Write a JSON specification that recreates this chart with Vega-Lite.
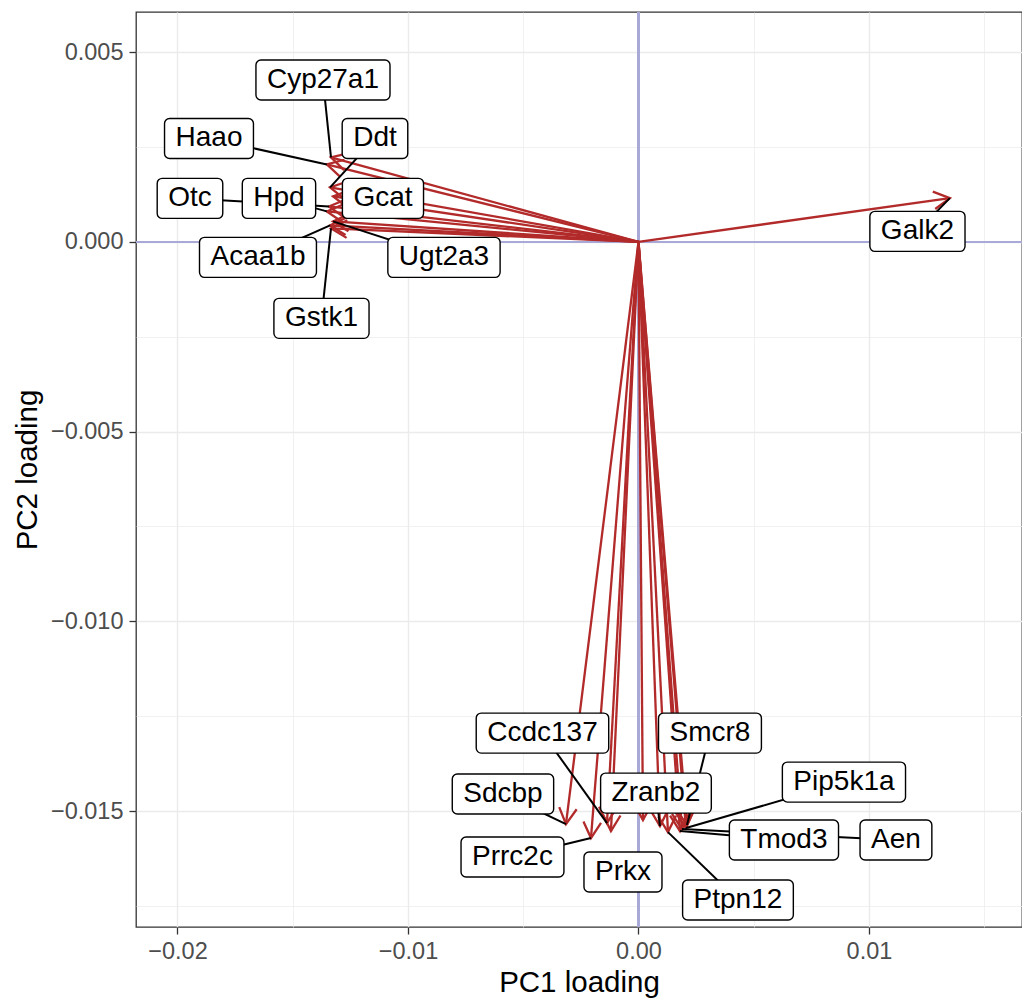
{
  "$schema": "https://vega.github.io/schema/vega-lite/v6.json",
  "width": 886,
  "height": 915,
  "autosize": {"type": "none"},
  "padding": {"left": 136, "top": 12, "right": 0, "bottom": 75},
  "background": "white",
  "config": {
    "font": "Liberation Sans",
    "view": {"stroke": "#333333", "strokeWidth": 1.3},
    "axis": {
      "domain": false,
      "grid": true,
      "gridColor": "#ebebeb",
      "labelFont": "Liberation Sans",
      "labelFontSize": 23.5,
      "labelColor": "#4d4d4d",
      "titleFont": "Liberation Sans",
      "titleFontSize": 29.5,
      "titleFontWeight": "normal",
      "titleColor": "#000000",
      "tickColor": "#333333",
      "tickWidth": 1.3,
      "tickSize": 7
    }
  },
  "datasets": {
    "loadings": [
      {"gene": "Cyp27a1", "pc1": -0.01334, "pc2": 0.002226, "lx": -0.013688, "ly": 0.004267},
      {"gene": "Haao", "pc1": -0.01352, "pc2": 0.002041, "lx": -0.018633, "ly": 0.002726},
      {"gene": "Ddt", "pc1": -0.01338, "pc2": 0.001436, "lx": -0.011432, "ly": 0.002726},
      {"gene": "Gcat", "pc1": -0.01325, "pc2": 0.001198, "lx": -0.011085, "ly": 0.001146},
      {"gene": "Otc", "pc1": -0.01343, "pc2": 0.000935, "lx": -0.019458, "ly": 0.001146},
      {"gene": "Hpd", "pc1": -0.01352, "pc2": 0.000803, "lx": -0.015597, "ly": 0.001146},
      {"gene": "Ugt2a3", "pc1": -0.01325, "pc2": 0.00054, "lx": -0.008438, "ly": -0.000408},
      {"gene": "Acaa1b", "pc1": -0.01338, "pc2": 0.000435, "lx": -0.016508, "ly": -0.000408},
      {"gene": "Gstk1", "pc1": -0.01334, "pc2": 0.000356, "lx": -0.013753, "ly": -0.002015},
      {"gene": "Galk2", "pc1": 0.01351, "pc2": 0.001154, "lx": 0.012104, "ly": 0.000277},
      {"gene": "Sdcbp", "pc1": -0.003145, "pc2": -0.015343, "lx": -0.005879, "ly": -0.014552},
      {"gene": "Prrc2c", "pc1": -0.002061, "pc2": -0.015712, "lx": -0.005466, "ly": -0.016211},
      {"gene": "Ccdc137", "pc1": -0.001366, "pc2": -0.015317, "lx": -0.004165, "ly": -0.012945},
      {"gene": "Prkx", "pc1": -0.001193, "pc2": -0.015527, "lx": -0.000672, "ly": -0.016606},
      {"gene": null, "pc1": 0.000195, "pc2": -0.015238, "lx": null, "ly": null},
      {"gene": "Zranb2", "pc1": 0.000933, "pc2": -0.015396, "lx": 0.000759, "ly": -0.014526},
      {"gene": "Ptpn12", "pc1": 0.00128, "pc2": -0.015554, "lx": 0.004317, "ly": -0.017344},
      {"gene": "Tmod3", "pc1": 0.0018, "pc2": -0.015527, "lx": 0.006312, "ly": -0.015764},
      {"gene": "Aen", "pc1": 0.001887, "pc2": -0.015475, "lx": 0.011171, "ly": -0.015764},
      {"gene": "Pip5k1a", "pc1": 0.002061, "pc2": -0.015448, "lx": 0.008915, "ly": -0.014236},
      {"gene": "Smcr8", "pc1": 0.002104, "pc2": -0.015369, "lx": 0.003102, "ly": -0.012945}
    ]
  },
  "data": {"name": "loadings"},
  "layer": [
    {
      "mark": {"type": "rule", "color": "#a9a9d8", "strokeWidth": 2},
      "encoding": {
        "y": {"datum": 0, "type": "quantitative", "scale": {"domain": [-0.018055, 0.006058], "nice": false, "zero": false},
          "axis": {
            "title": "PC2 loading",
            "grid": true,
            "values": [0.005, 0.0025, 0, -0.0025, -0.005, -0.0075, -0.01, -0.0125, -0.015, -0.0175],
            "format": ".3f",
            "labelExpr": "abs(round(datum.value * 400)) % 2 == 0 ? datum.label : ''",
            "tickOpacity": {"condition": {"test": "abs(round(datum.value * 400)) % 2 == 1", "value": 0}, "value": 1},
            "gridWidth": {"condition": {"test": "abs(round(datum.value * 400)) % 2 == 1", "value": 0.7}, "value": 1.4},
            "labelPadding": 6,
            "titlePadding": 8
          }
        }
      }
    },
    {
      "mark": {"type": "rule", "color": "#a9a9d8", "strokeWidth": 2},
      "encoding": {
        "x": {"datum": 0, "type": "quantitative", "scale": {"domain": [-0.0218, 0.01664], "nice": false, "zero": false},
          "axis": {
            "title": "PC1 loading",
            "grid": true,
            "values": [-0.02, -0.015, -0.01, -0.005, 0, 0.005, 0.01, 0.015],
            "format": ".2f",
            "labelExpr": "abs(round(datum.value * 200)) % 2 == 0 ? datum.label : ''",
            "tickOpacity": {"condition": {"test": "abs(round(datum.value * 200)) % 2 == 1", "value": 0}, "value": 1},
            "gridWidth": {"condition": {"test": "abs(round(datum.value * 200)) % 2 == 1", "value": 0.7}, "value": 1.4},
            "labelPadding": 5,
            "titlePadding": 6
          }
        }
      }
    },
    {
      "mark": {"type": "rule", "color": "#b22a2a", "strokeWidth": 2.3},
      "encoding": {
        "x": {"field": "pc1", "type": "quantitative"},
        "y": {"field": "pc2", "type": "quantitative"},
        "x2": {"datum": 0},
        "y2": {"datum": 0}
      }
    },
    {
      "transform": [
        {"calculate": "atan2(-datum.pc2 * 915 / 0.024113, datum.pc1 * 886 / 0.03844) * 180 / PI", "as": "ang"}
      ],
      "mark": {"type": "point", "shape": "M -1 -0.55 L 0 0 L -1 0.55", "filled": false, "size": 1024, "strokeWidth": 2.3, "color": "#b22a2a", "opacity": 1},
      "encoding": {
        "x": {"field": "pc1", "type": "quantitative"},
        "y": {"field": "pc2", "type": "quantitative"},
        "angle": {"field": "ang", "type": "quantitative", "scale": null}
      }
    },
    {
      "transform": [
        {"filter": "isValid(datum.gene) && datum.gene != 'Gcat' && datum.gene != 'Prkx'"}
      ],
      "mark": {"type": "rule", "color": "#000000", "strokeWidth": 2},
      "encoding": {
        "x": {"field": "lx", "type": "quantitative"},
        "y": {"field": "ly", "type": "quantitative"},
        "x2": {"field": "pc1"},
        "y2": {"field": "pc2"}
      }
    },
    {
      "transform": [
        {"filter": "isValid(datum.gene)"},
        {"calculate": "0.556 * length(datum.gene) - 0.334 * length(replace(datum.gene, regexp('[^ijl]', 'g'), '')) - 0.278 * length(replace(datum.gene, regexp('[^tf]', 'g'), '')) - 0.223 * length(replace(datum.gene, regexp('[^r]', 'g'), '')) - 0.056 * length(replace(datum.gene, regexp('[^cksvxyz]', 'g'), '')) + 0.277 * length(replace(datum.gene, regexp('[^mM]', 'g'), '')) + 0.166 * length(replace(datum.gene, regexp('[^wCDHNU]', 'g'), '')) + 0.222 * length(replace(datum.gene, regexp('[^GOQ]', 'g'), '')) + 0.111 * length(replace(datum.gene, regexp('[^ABEKPSVXY]', 'g'), '')) + 0.055 * length(replace(datum.gene, regexp('[^TZF]', 'g'), ''))", "as": "em"},
        {"calculate": "(datum.em * 28 + 22) / 2", "as": "hw"}
      ],
      "mark": {"type": "rect", "fill": "white", "stroke": "#000000", "strokeWidth": 1.4, "cornerRadius": 5,
        "xOffset": {"expr": "-datum.hw"}, "x2Offset": {"expr": "datum.hw"},
        "yOffset": {"expr": "-20"}, "y2Offset": {"expr": "20"}},
      "encoding": {
        "x": {"field": "lx", "type": "quantitative"},
        "x2": {"field": "lx"},
        "y": {"field": "ly", "type": "quantitative"},
        "y2": {"field": "ly"}
      }
    },
    {
      "transform": [{"filter": "isValid(datum.gene)"}],
      "mark": {"type": "text", "fontSize": 28, "font": "Liberation Sans", "align": "center", "baseline": "middle", "color": "#000000"},
      "encoding": {
        "x": {"field": "lx", "type": "quantitative"},
        "y": {"field": "ly", "type": "quantitative"},
        "text": {"field": "gene"}
      }
    }
  ]
}
